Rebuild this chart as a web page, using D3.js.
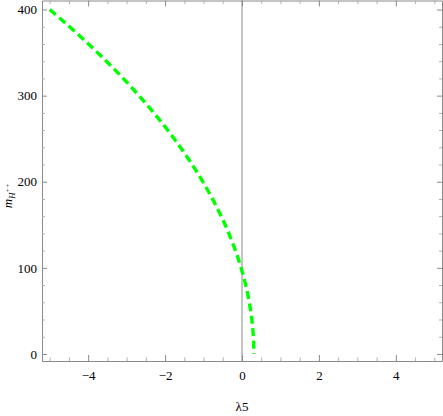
<!DOCTYPE html>
<html>
<head>
<meta charset="utf-8">
<script src="https://cdn.jsdelivr.net/npm/d3@7"></script>
<style>
  html, body { margin: 0; padding: 0; background: #fff; }
  svg { display: block; }
</style>
</head>
<body>
<svg id="chart" width="443" height="416"></svg>
<script>
// Data
const lambda5 = [-5, -4.5, -4, -3.5, -3, -2.5, -2, -1.5, -1, -0.5, -0.25, 0, 0.1, 0.2, 0.25, 0.28, 0.3, 0.309];
const mHpp    = [400, 380.7, 360.4, 338.8, 315.8, 290.9, 263.8, 233.5, 198.6, 156.1, 129.7, 96.4, 79.3, 57.2, 42.0, 29.3, 16.1, 0];
const xMajorTicks = [-4, -2, 0, 2, 4];
const xMinorTicks = [-5, -4.5, -3.5, -3, -2.5, -1.5, -1, -0.5, 0.5, 1, 1.5, 2.5, 3, 3.5, 4.5, 5];
const yMajorTicks = [0, 100, 200, 300, 400];
const yMinorTicks = [20, 40, 60, 80, 120, 140, 160, 180, 220, 240, 260, 280, 320, 340, 360, 380];

const FONT = "Liberation Serif";
const svg = d3.select("#chart");
const L = 42, R = 442, T = 0.5, B = 361;
const x = d3.scaleLinear().domain([-5.2, 5.2]).range([L, R]);
const y = d3.scaleLinear().domain([-8.2, 410.5]).range([B, T]);

const frameColor = "#8a8a8a";
const minorColor = "#b0b0b0";
const fmt = d => (d < 0 ? "\u2212" + Math.abs(d) : String(d));

// vertical line at x = 0
svg.append("line")
  .attr("x1", x(0)).attr("x2", x(0)).attr("y1", T).attr("y2", B)
  .attr("stroke", "#8a8a8a").attr("stroke-width", 1);

// curve
const pts = lambda5.map((l, i) => [l, mHpp[i]]);
svg.append("path")
  .datum(pts)
  .attr("fill", "none")
  .attr("stroke", "#00ff00")
  .attr("stroke-width", 3.4)
  .attr("stroke-dasharray", "8,4.5")
  .attr("d", d3.line().x(d => x(d[0])).y(d => y(d[1])).curve(d3.curveMonotoneY));

// axes
const gB = svg.append("g").attr("transform", `translate(0,${B})`)
  .call(d3.axisBottom(x).tickValues(xMajorTicks).tickSizeInner(-6).tickSizeOuter(0).tickPadding(10).tickFormat(fmt));
const gBm = svg.append("g").attr("transform", `translate(0,${B})`)
  .call(d3.axisBottom(x).tickValues(xMinorTicks).tickSizeInner(-3.5).tickSizeOuter(0).tickFormat(""));
const gT = svg.append("g").attr("transform", `translate(0,${T})`)
  .call(d3.axisTop(x).tickValues(xMajorTicks).tickSizeInner(-6).tickSizeOuter(0).tickFormat(""));
const gTm = svg.append("g").attr("transform", `translate(0,${T})`)
  .call(d3.axisTop(x).tickValues(xMinorTicks).tickSizeInner(-3.5).tickSizeOuter(0).tickFormat(""));
const gL = svg.append("g").attr("transform", `translate(${L},0)`)
  .call(d3.axisLeft(y).tickValues(yMajorTicks).tickSizeInner(-5).tickSizeOuter(0).tickPadding(5).tickFormat(fmt));
const gLm = svg.append("g").attr("transform", `translate(${L},0)`)
  .call(d3.axisLeft(y).tickValues(yMinorTicks).tickSizeInner(-3).tickSizeOuter(0).tickFormat(""));
const gR = svg.append("g").attr("transform", `translate(${R},0)`)
  .call(d3.axisRight(y).tickValues(yMajorTicks).tickSizeInner(-5).tickSizeOuter(0).tickFormat(""));
const gRm = svg.append("g").attr("transform", `translate(${R},0)`)
  .call(d3.axisRight(y).tickValues(yMinorTicks).tickSizeInner(-3).tickSizeOuter(0).tickFormat(""));

[gB, gT, gL, gR].forEach(g => {
  g.attr("font-family", FONT).attr("font-size", 13);
  g.select(".domain").attr("stroke", frameColor).attr("stroke-width", 1);
  g.selectAll(".tick line").attr("stroke", frameColor);
  g.selectAll(".tick text").attr("fill", "#000").attr("font-family", FONT).attr("font-size", 13);
});
[gBm, gTm, gLm, gRm].forEach(g => {
  g.select(".domain").remove();
  g.selectAll(".tick line").attr("stroke", minorColor);
});

// axis labels
svg.append("text")
  .attr("x", x(0)).attr("y", 411)
  .attr("text-anchor", "middle")
  .attr("font-family", FONT)
  .attr("font-size", 13)
  .text("\u03bb5");

const yl = svg.append("text")
  .attr("transform", `translate(12,${y(200) + 14}) rotate(-90)`)
  .attr("text-anchor", "middle")
  .attr("font-family", FONT)
  .attr("font-size", 13)
  .attr("font-style", "italic");
yl.append("tspan").text("m");
yl.append("tspan").attr("dy", 3).attr("font-size", 8.5).text("H");
yl.append("tspan").attr("dy", -5).attr("font-size", 7).text("++");
</script>
</body>
</html>
